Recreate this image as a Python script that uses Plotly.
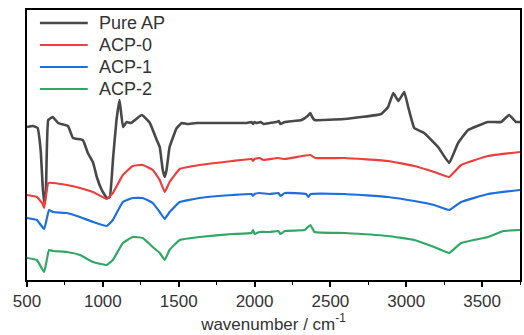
import plotly.graph_objects as go

# Values: y = offset transmittance (arb. units)
names = ["Pure AP", "ACP-0", "ACP-1", "ACP-2"]
colors = ["#484848", "#ee3d3d", "#1d6fe0", "#30a865"]

ap_x = [500, 540, 570, 590, 605, 615, 625, 640, 670, 705, 770, 803, 868, 901, 934, 947, 960, 993, 1026, 1046,
        1068, 1090, 1110, 1133, 1157, 1185, 1257, 1310, 1355, 1375, 1395, 1408, 1420, 1440, 1487, 1520,
        1553, 1618, 1800, 1950, 1980, 1990, 2000, 2013, 2040, 2060, 2100, 2145, 2160, 2170, 2200, 2310,
        2350, 2368, 2380, 2395, 2592, 2835, 2880, 2915, 2948, 2987, 3013, 3053, 3118, 3210, 3283, 3342,
        3408, 3539, 3625, 3678, 3724, 3750]
ap_y = [153, 154, 152, 130, 90, 76, 90, 160, 163, 157, 154, 142, 140, 127, 118, 111, 103, 90, 82, 83,
        123, 160, 180, 153, 158, 157, 165, 157, 140, 133, 110, 103, 110, 133, 152, 157,
        156, 157, 157, 157, 158, 156, 158, 157, 158, 156, 157, 158, 159, 156, 158, 160,
        164, 167, 163, 160, 161, 166, 173, 187, 179, 188, 173, 152, 147, 133, 117, 137,
        150, 158, 158, 165, 158, 158]

acp0_x = [500, 565, 600, 613, 640, 672, 763, 849, 935, 1026, 1066, 1132, 1197, 1263, 1329, 1375, 1408,
          1440, 1507, 1638, 1855, 1980, 1990, 2000, 2033, 2060, 2150, 2200, 2368, 2400, 2592, 2880, 3053,
          3184, 3283, 3362, 3539, 3750]
acp0_y = [85, 83, 77, 72, 97, 97, 95, 92, 88, 81, 87, 105, 114, 115, 110, 100, 88,
          98, 111, 115, 119, 121, 119, 121, 122, 120, 122, 121, 125, 122, 122, 119, 114,
          108, 103, 115, 124, 128]

acp1_x = [500, 565, 613, 645, 672, 763, 849, 935, 1026, 1066, 1132, 1197, 1263, 1329, 1375, 1408,
          1440, 1507, 1638, 1855, 1980, 1990, 2000, 2033, 2100, 2158, 2170, 2200, 2340, 2355, 2370,
          2592, 2880, 3053, 3184, 3283, 3362, 3539, 3750]
acp1_y = [62, 60, 51, 70, 68, 67, 63, 58, 54, 60, 78, 82, 82, 77, 68, 61,
          68, 78, 82, 85, 86, 84, 86, 87, 86, 87, 84, 87, 86, 83, 86,
          86, 83, 79, 75, 70, 78, 86, 90]

acp2_x = [500, 565, 613, 645, 672, 763, 849, 935, 1026, 1066, 1132, 1197, 1263, 1329, 1375, 1408,
          1440, 1507, 1638, 1855, 1980, 1990, 2000, 2033, 2100, 2158, 2170, 2200, 2330, 2368, 2395,
          2592, 2880, 3053, 3184, 3283, 3362, 3539, 3640, 3750]
acp2_y = [22, 20, 8, 30, 29, 28, 25, 18, 15, 20, 37, 43, 42, 33, 27, 20,
          30, 40, 43, 46, 47, 50, 46, 48, 48, 49, 46, 49, 50, 55, 48,
          47, 44, 40, 33, 27, 37, 43, 49, 50]

xs = [ap_x, acp0_x, acp1_x, acp2_x]
ys = [ap_y, acp0_y, acp1_y, acp2_y]
widths = [2.6, 2.2, 2.2, 2.2]

fig = go.Figure()
for n, c, x, y, w in zip(names, colors, xs, ys, widths):
    fig.add_trace(go.Scatter(x=x, y=y, mode="lines", name=n, showlegend=False,
                             line=dict(color=c, width=w, shape="spline", smoothing=0.3)))

# Hand-placed legend (plot area spans x 27..522 px, y 10..280 px)
W, H, L, T = 495.0, 270.0, 27.0, 10.0
for i, (n, c) in enumerate(zip(names, colors)):
    ypx = 23 + 22 * i
    yp = 1 - (ypx - T) / H
    fig.add_shape(type="line", xref="paper", yref="paper",
                  x0=(40 - L) / W, x1=(88 - L) / W, y0=yp, y1=yp,
                  line=dict(color=c, width=2.4 if i == 0 else 2))
    fig.add_annotation(xref="paper", yref="paper", x=(97 - L) / W, y=yp,
                       xanchor="left", yanchor="middle", text=n, showarrow=False,
                       font=dict(size=18, color="#333333"))

fig.update_layout(
    width=524, height=335,
    margin=dict(l=27, r=2, t=10, b=55),
    paper_bgcolor="white", plot_bgcolor="white",
    font=dict(family="Liberation Sans, Arial, sans-serif", color="#333333", size=16),
    showlegend=False,
)
fig.update_xaxes(range=[500, 3750], showline=True, linecolor="black", linewidth=2, mirror=True,
                 ticks="outside", ticklen=5, tickwidth=1.5, tickcolor="black", dtick=500, tick0=500,
                 minor=dict(dtick=250, ticks="outside", ticklen=3, tickcolor="black", tickwidth=1.2),
                 showgrid=False, zeroline=False,
                 title=dict(text="wavenumber / cm<sup>-1</sup>", font=dict(size=17, color="#333333"), standoff=2),
                 tickfont=dict(size=17, color="#333333"))
fig.update_yaxes(range=[0, 270], showline=True, linecolor="black", linewidth=2, mirror=True,
                 showticklabels=False, ticks="", showgrid=False, zeroline=False)

fig.write_html("out.html")
